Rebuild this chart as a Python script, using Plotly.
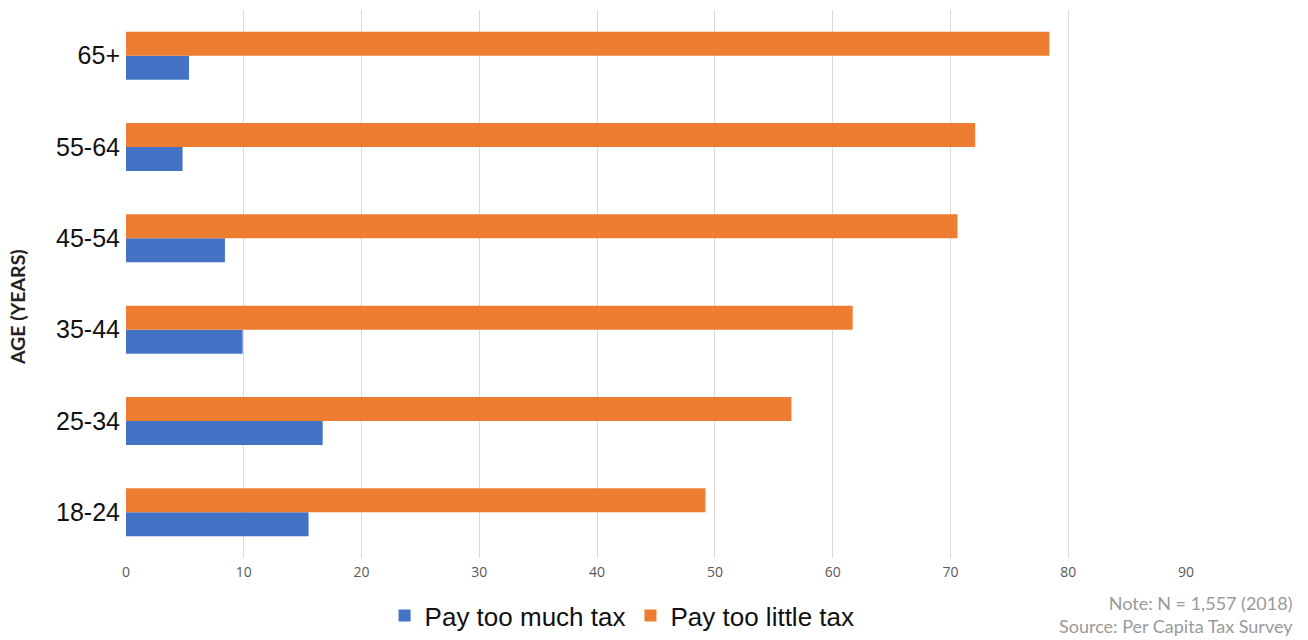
import plotly.graph_objects as go

age_groups = ["18-24", "25-34", "35-44", "45-54", "55-64", "65+"]
too_much = [15.5, 16.7, 9.9, 8.4, 4.8, 5.35]
too_little = [49.2, 56.5, 61.7, 70.6, 72.1, 78.4]
x_ticks = [0, 10, 20, 30, 40, 50, 60, 70, 80, 90]

fig = go.Figure()
fig.add_trace(go.Bar(
    y=age_groups, x=too_much, orientation="h", name="Pay too much tax",
    marker=dict(color="#4472C4", line=dict(width=0)),
))
fig.add_trace(go.Bar(
    y=age_groups, x=too_little, orientation="h", name="Pay too little tax",
    marker=dict(color="#ED7D31", line=dict(width=0)),
))

fig.update_layout(
    width=1308, height=640,
    margin=dict(l=126, r=122, t=10, b=82, autoexpand=False),
    paper_bgcolor="white", plot_bgcolor="white",
    barmode="group", bargap=0.474, bargroupgap=0,
    showlegend=True,
    legend=dict(
        orientation="h", x=0.468, xanchor="center", y=-0.105, yanchor="middle",
        font=dict(family="Liberation Sans, Arial", size=26, color="#111111"),
        itemsizing="constant", traceorder="normal", itemwidth=30,
    ),
    xaxis=dict(
        range=[0, 90], tickvals=x_ticks, showgrid=True, gridcolor="#D9D9D9",
        gridwidth=1, zeroline=False, showline=False,
        ticks="outside", ticklen=1, tickcolor="rgba(0,0,0,0)",
        automargin=False,
        tickfont=dict(family="Open Sans", size=14, color="#595959"),
    ),
    yaxis=dict(
        categoryorder="array", categoryarray=age_groups,
        showgrid=False, zeroline=False, showline=False, ticks="",
        ticklabelstandoff=5, automargin=False,
        tickfont=dict(family="Liberation Sans, Arial", size=25, color="#111111"),
    ),
)

fig.add_annotation(
    text="<b>AGE (YEARS)</b>", textangle=-90, xref="paper", yref="paper",
    x=-0.1028, y=0.458, xanchor="center", yanchor="middle", showarrow=False,
    font=dict(family="Lato", size=19.5, color="#222222"),
)
fig.add_annotation(
    text="Note: N = 1,557 (2018)<br>Source: Per Capita Tax Survey",
    xref="paper", yref="paper", x=1.1028, y=-0.104, xanchor="right", yanchor="middle",
    align="right", showarrow=False,
    font=dict(family="Lato", size=18, color="#9A9A9A"),
)

fig.write_html("out.html")
